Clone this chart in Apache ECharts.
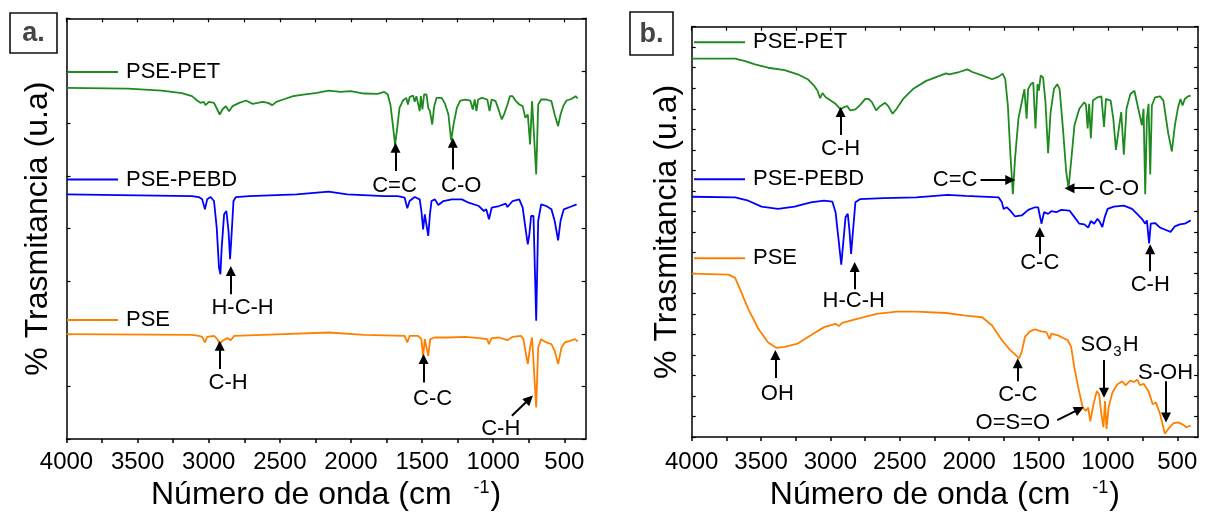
<!DOCTYPE html>
<html><head><meta charset="utf-8">
<script src="https://cdn.jsdelivr.net/npm/echarts@6/dist/echarts.min.js"></script>
<style>html,body{margin:0;padding:0;background:#fff}#c{width:1206px;height:516px}</style>
</head><body><div id="c"></div>
<script>
// ---------- DATA (wavenumber cm^-1, transmittance in arbitrary units) ----------
const seriesNames = ['PSE-PET', 'PSE-PEBD', 'PSE'];
const xTickValues = [500, 750, 1000, 1250, 1500, 1750, 2000, 2250, 2500, 2750, 3000, 3250, 3500, 3750, 4000];
const xLabelValues = [500, 1000, 1500, 2000, 2500, 3000, 3500, 4000];

// Panel a
const petA = [[4000,1055],[3568,1053],[3331,1047],[3189,1039],[3118,1030],[3082,1017],[3058,1010],[3035,1013],[3023,1003],[2999,1013],[2963,1010],[2940,990],[2923,975],[2904,990],[2880,1000],[2857,985],[2833,1000],[2786,1010],[2738,1017],[2691,1007],[2655,1010],[2620,1013],[2584,1010],[2553,1003],[2525,1013],[2477,1020],[2406,1030],[2335,1035],[2240,1040],[2157,1047],[2074,1043],[2003,1045],[1908,1038],[1813,1037],[1766,1043],[1742,1035],[1723,1005],[1706,945],[1690,883],[1675,935],[1659,995],[1635,1017],[1611,1025],[1600,1005],[1588,1027],[1564,1032],[1552,1013],[1540,1030],[1528,1035],[1517,985],[1509,1030],[1498,990],[1486,1035],[1469,1035],[1457,995],[1445,985],[1429,945],[1415,1000],[1398,1025],[1362,1025],[1339,1007],[1315,975],[1296,897],[1279,945],[1256,995],[1232,1017],[1196,1020],[1161,1017],[1144,990],[1130,1020],[1118,985],[1106,1020],[1078,1025],[1042,1020],[1026,985],[1011,1020],[983,1015],[959,985],[940,960],[924,975],[900,1005],[883,1030],[864,1030],[840,1015],[817,1005],[793,1000],[774,965],[757,975],[741,885],[727,1015],[715,1020],[698,795],[684,1005],[663,1020],[627,1020],[591,1015],[568,975],[544,940],[527,975],[508,1000],[485,1017],[461,1020],[437,1025],[421,1030],[406,1023]];
const pebdA = [[4000,735],[3118,730],[3070,727],[3046,720],[3027,690],[3011,720],[2987,727],[2963,715],[2944,635],[2928,515],[2918,495],[2909,575],[2892,675],[2876,685],[2861,625],[2850,540],[2838,625],[2826,715],[2809,727],[2714,730],[2382,735],[2157,743],[2026,735],[1766,730],[1671,730],[1623,725],[1604,693],[1588,715],[1552,727],[1517,720],[1505,685],[1493,630],[1481,675],[1469,670],[1457,610],[1445,675],[1434,715],[1410,720],[1386,703],[1350,715],[1291,720],[1220,720],[1173,710],[1101,700],[1066,685],[1049,690],[1030,660],[1011,695],[959,700],[912,707],[900,697],[864,715],[817,720],[793,695],[774,635],[757,585],[746,615],[734,670],[717,670],[698,355],[684,655],[663,705],[627,700],[591,690],[568,655],[544,597],[527,655],[504,690],[461,697],[414,705]];
const pseA = [[4000,315],[3118,313],[3070,310],[3046,307],[3027,290],[3011,307],[2963,310],[2940,300],[2921,285],[2904,295],[2869,303],[2845,297],[2821,310],[2620,313],[2157,320],[1908,313],[1623,310],[1604,290],[1588,310],[1528,310],[1505,300],[1493,247],[1481,300],[1469,303],[1457,250],[1443,300],[1410,305],[1315,305],[1196,307],[1101,303],[1042,300],[1030,285],[1011,303],[959,305],[900,297],[864,307],[805,310],[788,300],[774,265],[757,225],[741,275],[727,305],[715,300],[698,95],[684,275],[663,300],[627,290],[591,285],[568,265],[544,225],[520,275],[497,290],[461,295],[425,300],[406,293]];

// Panel b
const petB = [[4000,1153],[3687,1153],[3615,1145],[3544,1135],[3449,1125],[3331,1118],[3236,1105],[3164,1090],[3117,1070],[3093,1055],[3074,1032],[3058,1048],[3034,1035],[2998,1025],[2963,1015],[2927,998],[2903,1005],[2879,1008],[2856,995],[2820,998],[2785,1012],[2749,1030],[2725,1030],[2701,1020],[2671,995],[2642,1008],[2606,1018],[2583,1008],[2552,985],[2523,1000],[2476,1030],[2405,1060],[2310,1085],[2215,1100],[2167,1108],[2144,1105],[2072,1112],[2013,1120],[1977,1112],[1906,1102],[1835,1090],[1787,1098],[1759,1107],[1740,1090],[1721,1010],[1704,870],[1685,740],[1669,850],[1645,970],[1621,1020],[1602,1060],[1586,970],[1575,1060],[1556,1075],[1538,1080],[1522,940],[1507,1075],[1498,1055],[1484,1102],[1467,1095],[1450,1020],[1431,865],[1413,990],[1389,1060],[1365,1075],[1348,1060],[1324,940],[1301,810],[1284,758],[1265,840],[1241,950],[1206,1000],[1170,1020],[1158,1012],[1146,940],[1135,1015],[1123,910],[1108,1025],[1075,1035],[1047,1038],[1028,945],[1014,1030],[980,1025],[961,970],[942,875],[921,940],[904,990],[885,860],[866,1000],[838,1045],[809,1055],[786,1010],[755,950],[743,1000],[731,740],[719,970],[707,1015],[695,800],[683,1010],[660,1035],[624,1038],[600,1025],[581,970],[565,925],[553,920],[539,870],[517,950],[494,1005],[477,1030],[462,1010],[446,1030],[422,1038],[403,1040]];
const pebdB = [[4000,732],[3687,730],[3592,720],[3497,702],[3378,695],[3259,702],[3141,715],[3046,720],[2986,717],[2963,685],[2946,620],[2922,525],[2908,590],[2891,670],[2875,680],[2863,630],[2851,558],[2837,630],[2820,715],[2785,725],[2618,728],[2381,730],[2155,738],[2025,735],[1787,730],[1764,715],[1752,695],[1728,700],[1704,690],[1669,672],[1621,675],[1574,692],[1526,700],[1503,700],[1479,650],[1460,685],[1431,680],[1408,688],[1372,685],[1336,692],[1277,690],[1241,670],[1206,650],[1170,648],[1142,638],[1123,658],[1099,650],[1075,665],[1058,655],[1040,640],[1023,670],[1002,695],[957,702],[885,705],[826,695],[790,680],[755,665],[731,650],[719,660],[703,590],[691,650],[660,652],[624,638],[577,630],[548,625],[517,642],[482,648],[446,650],[403,660]];
const pseB = [[4000,498],[3734,495],[3687,485],[3651,450],[3592,390],[3520,330],[3449,288],[3390,272],[3331,275],[3236,285],[3141,310],[3046,335],[2963,345],[2939,338],[2915,348],[2808,360],[2666,375],[2523,382],[2381,382],[2167,378],[2025,370],[1906,365],[1835,340],[1764,295],[1704,265],[1669,252],[1640,240],[1621,260],[1598,305],[1562,322],[1526,328],[1479,322],[1443,320],[1420,298],[1408,315],[1360,310],[1289,295],[1265,275],[1241,210],[1213,150],[1182,90],[1158,80],[1142,90],[1127,48],[1104,100],[1080,140],[1063,130],[1047,70],[1032,30],[1021,110],[1010,25],[995,90],[968,135],[933,160],[897,170],[873,158],[838,172],[813,168],[788,175],[769,158],[741,162],[707,140],[677,100],[653,105],[624,70],[589,10],[565,25],[529,42],[494,45],[458,38],[435,30],[403,35]];

// Band annotations: arrow tail -> head, label centre (data coordinates)
const annotA = [
  {s:0, text:'C=C',   tail:[1687,805], head:[1687,875], label:[1694,760]},
  {s:0, text:'C-O',   tail:[1284,810], head:[1284,890], label:[1225,760]},
  {s:1, text:'H-C-H', tail:[2845,435], head:[2845,505], label:[2762,395]},
  {s:2, text:'C-H',   tail:[2923,210], head:[2923,280], label:[2864,167]},
  {s:2, text:'C-C',   tail:[1490,170], head:[1490,240], label:[1426,120]},
  {s:2, text:'C-H',   tail:[869,70],   head:[746,120],  label:[947,30]}
];
const annotB = [
  {s:0, text:'C-H',   tail:[2927,920], head:[2927,990], label:[2927,877]},
  {s:0, text:'C=C',   tail:[1918,783], head:[1704,783], label:[2101,783]},
  {s:0, text:'C-O',   tail:[1099,758], head:[1277,758], label:[921,755]},
  {s:1, text:'H-C-H', tail:[2825,450], head:[2825,518], label:[2832,415]},
  {s:1, text:'C-C',   tail:[1491,558], head:[1491,625], label:[1491,530]},
  {s:1, text:'C-H',   tail:[695,505],  head:[695,572],  label:[695,462]},
  {s:2, text:'OH',    tail:[3397,180], head:[3397,250], label:[3383,132]},
  {s:2, text:'C-C',   tail:[1650,170], head:[1650,225], label:[1650,127]},
  {s:2, text:'SO3H',  tail:[1028,235], head:[1028,135], label:[988,275]},
  {s:2, text:'S-OH',  tail:[581,170],  head:[581,60],   label:[584,195]},
  {s:2, text:'O=S=O', tail:[1365,52],  head:[1206,85],  label:[1685,42]}
];

// ---------- STYLE ----------
const FONT = "'Liberation Sans', Arial, Helvetica, sans-serif";
const COLORS = ['#1f8a1f', '#0000ff', '#ff8000'];

function xBottom(grid, labelMargin, nameGap) {
  return {
    type: 'value', gridIndex: grid, min: 350, max: 4000, inverse: true, position: 'bottom',
    axisLine: {show: true, onZero: false, lineStyle: {color: '#000', width: 1.5}},
    axisTick: {show: true, inside: false, length: 4, customValues: xTickValues, lineStyle: {color: '#000', width: 1.5}},
    axisLabel: {show: true, customValues: xLabelValues, fontSize: 24, color: '#000', margin: labelMargin, fontFamily: FONT,
                formatter: v => String(v)},
    splitLine: {show: false},
    name: '{t|Número de onda (cm}{sup|-1}{t|)}',
    nameLocation: 'middle', nameGap: nameGap,
    nameTextStyle: {
      fontFamily: FONT, color: '#000',
      rich: {
        t: {fontSize: 32, fontFamily: FONT, color: '#000', verticalAlign: 'bottom'},
        sup: {fontSize: 18, fontFamily: FONT, color: '#000', verticalAlign: 'top', padding: [0, 1, 0, 22]}
      }
    }
  };
}
function xTop(grid) {
  return {
    type: 'value', gridIndex: grid, min: 350, max: 4000, inverse: true, position: 'top',
    axisLine: {show: true, onZero: false, lineStyle: {color: '#000', width: 1.5}},
    axisTick: {show: true, inside: true, length: 4, customValues: xTickValues, lineStyle: {color: '#000', width: 1.2}},
    axisLabel: {show: false}, splitLine: {show: false}
  };
}
function yAxis(grid, max, interval, pos, withName, nameGap) {
  const a = {
    type: 'value', gridIndex: grid, min: 0, max: max, interval: interval, position: pos,
    axisLine: {show: true, onZero: false, lineStyle: {color: '#000', width: 1.5}},
    axisTick: {show: true, inside: true, length: 4, lineStyle: {color: '#000', width: 1.2}},
    axisLabel: {show: false}, splitLine: {show: false}
  };
  if (withName) {
    a.name = '% Trasmitancia (u.a)';
    a.nameLocation = 'middle';
    a.nameGap = nameGap;
    a.nameTextStyle = {fontSize: 32, fontFamily: FONT, color: '#000'};
  }
  return a;
}

function buildSeries(datasets, xi, yi, annots) {
  return datasets.map((d, i) => {
    const mine = annots.filter(a => a.s === i);
    return {
      type: 'line', name: seriesNames[i], xAxisIndex: xi, yAxisIndex: yi, data: d,
      showSymbol: false, symbol: 'none', silent: true,
      lineStyle: {color: COLORS[i], width: 1.8}, itemStyle: {color: COLORS[i]},
      z: 2,
      markLine: {
        silent: true, animation: false, symbol: ['none', 'triangle'], symbolSize: 10,
        label: {show: false}, emphasis: {disabled: true},
        lineStyle: {color: '#000', width: 2, type: 'solid'},
        itemStyle: {color: '#000'},
        data: mine.map(a => [{coord: a.tail}, {coord: a.head}])
      },
      markPoint: {
        silent: true, animation: false, symbol: 'circle', symbolSize: 1,
        itemStyle: {color: 'rgba(0,0,0,0)'},
        label: {
          show: true, position: 'inside', color: '#000', fontSize: 22, fontFamily: FONT,
          formatter: p => p.name === 'SO3H' ? '{n|SO}{s|3}{n|H}' : p.name,
          rich: {
            n: {fontSize: 22, fontFamily: FONT, color: '#000', verticalAlign: 'top'},
            s: {fontSize: 15, fontFamily: FONT, color: '#000', verticalAlign: 'bottom', padding: [10, 1, 0, 1]}
          }
        },
        data: mine.map(a => ({name: a.text, coord: a.label}))
      }
    };
  });
}

// Panel legends and tags (page layout)
function legendGraphics(x0, ys) {
  const g = [];
  ys.forEach((y, i) => {
    g.push({type: 'line', shape: {x1: x0, y1: y, x2: x0 + 51, y2: y}, style: {stroke: COLORS[i], lineWidth: 2}, z: 10});
    g.push({type: 'text', x: x0 + 59, y: y, style: {text: seriesNames[i], fontSize: 22, fontFamily: FONT, fill: '#000', verticalAlign: 'middle', align: 'left'}, z: 10});
  });
  return g;
}
function tag(x, y, w, h, t) {
  return [
    {type: 'rect', shape: {x: x, y: y, width: w, height: h}, style: {fill: '#fff', stroke: '#111', lineWidth: 1.6}, z: 10},
    {type: 'text', x: x + w / 2, y: y + h / 2 + 1, style: {text: t, fontSize: 27, fontWeight: 'bold', fontFamily: FONT, fill: '#444', align: 'center', verticalAlign: 'middle'}, z: 11}
  ];
}

const chart = echarts.init(document.getElementById('c'), null, {renderer: 'canvas'});
chart.setOption({
  animation: false,
  backgroundColor: '#fff',
  textStyle: {fontFamily: FONT},
  grid: [
    {left: 66.5, top: 18.3, width: 519.2, height: 423.4},
    {left: 691.7, top: 26.7, width: 512.6, height: 416}
  ],
  xAxis: [xBottom(0, 11, 40), xTop(0), xBottom(1, 13, 40), xTop(1)],
  yAxis: [yAxis(0, 1264, 158, 'left', true, 12), yAxis(0, 1264, 158, 'right', false),
          yAxis(1, 1250, 62.5, 'left', true, 9), yAxis(1, 1250, 62.5, 'right', false)],
  series: [].concat(
    buildSeries([petA, pebdA, pseA], 0, 0, annotA),
    buildSeries([petB, pebdB, pseB], 2, 2, annotB)
  ),
  graphic: [].concat(
    legendGraphics(67, [72, 179.5, 320]),
    legendGraphics(694, [42.3, 179.3, 258.3]),
    tag(10, 13, 47, 40, 'a.'),
    tag(630, 12, 43, 43, 'b.')
  )
});
</script></body></html>
